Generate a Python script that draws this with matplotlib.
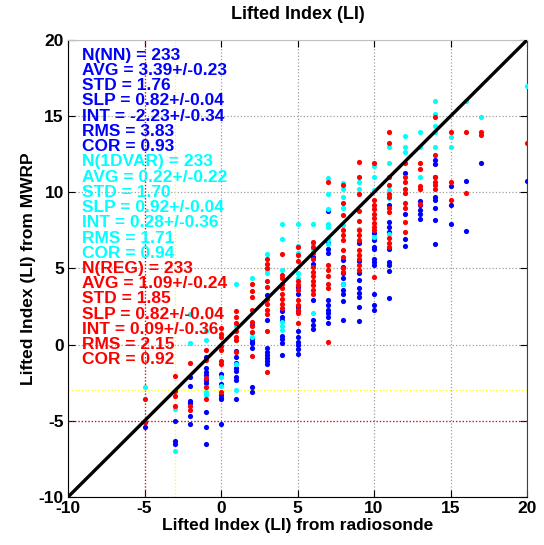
import matplotlib
matplotlib.use('Agg')
import matplotlib.pyplot as plt

plt.rcParams['font.family'] = ['Liberation Sans', 'DejaVu Sans']
plt.rcParams['font.weight'] = 'bold'
plt.rcParams['axes.unicode_minus'] = False

# LI from MWRP retrievals, grouped by the radiosonde LI value (column)
nn_pts = {
    -5: [-5.1, -5.4],
    -3: [-5.0, -6.3, -6.5],
    -2: [-2.1, -2.7, -3.7, -3.8, -4.7, -5.2],
    -1: [-0.8, -1.5, -1.8, -2.0, -2.3, -2.5, -4.4, -5.4, -6.5],
    0: [-1.9, -2.6, -3.3, -3.5, -3.6, -5.2],
    1: [-0.4, -0.8, -1.2, -1.5, -1.7, -2.1, -2.3, -3.6],
    2: [1.3, 0.4, 0.2, 0.1, -0.25, -2.8, -3.1],
    3: [3.25, 1.6, -0.25, -0.5, -0.7, -0.9, -1.1, -1.3],
    4: [2.2, 1.8, 1.6, 0.6, 0.4, 0.1, -0.7],
    5: [3.8, 3.35, 2.5, 2.2, 0.9, 0.5, 0.2, 0.0, -0.3, -0.6],
    6: [5.75, 5.3, 2.9, 1.6, 1.3, 1.0],
    7: [8.75, 6.65, 6.3, 6.0, 2.9, 2.6, 2.3, 2.05, 1.8, 1.4],
    8: [5.55, 5.1, 4.7, 4.4, 4.0, 3.6, 3.3, 2.85, 1.6],
    9: [6.65, 5.5, 4.7, 4.25, 3.7, 3.4, 3.15, 2.5, 1.55],
    10: [7.3, 6.9, 6.4, 6.3, 5.65, 5.4, 5.2, 3.35, 2.6, 2.3],
    11: [9.2, 8.05, 7.7, 7.4, 6.25, 5.4, 5.2, 4.85, 3.05],
    12: [11.3, 8.6, 6.95, 6.45],
    13: [9.4, 9.2, 8.85, 8.6, 8.25],
    14: [12.15, 11.85, 11.0, 9.7, 9.5, 8.99, 8.2, 6.6],
    15: [10.4, 9.2, 7.95],
    16: [10.75, 7.45],
    17: [11.95],
    20: [10.75],
}

dvar_pts = {
    -5: [-2.75],
    -3: [-4.2, -7.0],
    -2: [2.0, 0.1],
    -1: [0.9, 0.3, -2.8, -3.1, -3.3],
    0: [-2.1, -2.7],
    1: [4.0, 1.2, 0.3, -1.3, -3.0],
    2: [4.35, 0.75, 0.5],
    3: [5.95, 4.9, 4.7],
    4: [7.95, 6.95, 4.9, 1.5, 1.2, 0.95],
    5: [7.95, 6.5, 6.0, 4.7, 4.4, 4.0],
    6: [7.95, 6.6, 6.3, 2.05],
    7: [10.95, 9.9, 8.9, 7.95, 7.7, 6.95, 6.6],
    8: [10.6, 10.2, 9.7, 8.95, 7.85, 4.0],
    9: [10.7, 10.2, 7.6, 5.9],
    10: [11.7, 11.0, 10.15, 9.1, 7.1],
    11: [12.95, 11.95, 10.15, 9.6, 7.25],
    12: [13.7, 12.95, 12.65, 9.94],
    13: [13.98, 12.95, 11.0],
    14: [15.97, 15.14, 14.37, 13.98, 12.95],
    15: [13.65, 12.95],
    16: [15.97],
    17: [14.96],
    20: [16.98],
}

reg_pts = {
    -5: [-3.6, -5.1],
    -3: [-2.05, -3.05, -3.4, -4.0],
    -2: [-1.2, -4.0, -4.3],
    -1: [-0.35, -1.0, -2.2, -2.8, -3.6],
    0: [1.1, 0.7, 0.5, -0.1, -0.35, -1.05, -1.3, -3.1],
    1: [2.2, 1.8, 1.4, 0.9, 0.5, 0.3, -0.5],
    2: [3.95, 3.5, 3.1, 2.3, 1.5, 1.2, 0.85, -0.75],
    3: [5.6, 5.3, 5.05, 4.2, 3.8, 3.0, 2.7, 2.3, 2.0, 0.9, -1.8],
    4: [5.95, 4.6, 4.35, 4.0, 3.7, 3.35, 3.0, 2.7, 2.4],
    5: [6.4, 5.9, 5.5, 4.2, 3.9, 3.6, 2.9, 2.6, 2.3, 2.05, 1.45],
    6: [6.75, 6.4, 6.0, 5.6, 5.1, 4.8, 4.5, 4.2, 3.9, 3.6, 3.35],
    7: [10.65, 5.2, 4.9, 4.5, 4.0, 3.7, 0.2],
    8: [10.45, 9.3, 8.5, 7.5, 7.2, 6.85, 6.2, 5.75, 5.0, 4.8],
    9: [12.0, 11.0, 9.9, 8.8, 8.15, 7.5, 7.2, 6.85, 6.2, 5.9, 5.6, 5.2, 4.9],
    10: [11.95, 9.5, 9.2, 8.9, 8.6, 8.3, 8.0, 7.7, 7.5, 4.45],
    11: [13.98, 13.25, 11.0, 10.45, 9.9, 9.7, 9.0, 8.7, 7.0, 6.7, 6.4],
    12: [11.95, 11.0, 10.7, 10.2, 9.97, 9.3, 8.95, 8.05, 7.4],
    13: [11.95, 11.5, 10.4, 10.2, 9.25],
    14: [14.96, 12.45, 11.0, 10.7, 10.45, 10.2],
    15: [13.98, 10.7, 9.5],
    16: [13.98, 9.95],
    17: [13.98, 13.76],
    20: [13.25],
}

nn_stats = ['N(NN) = 233', 'AVG = 3.39+/-0.23', 'STD = 1.76', 'SLP = 0.82+/-0.04',
            'INT = -2.23+/-0.34', 'RMS = 3.83', 'COR = 0.93']
dvar_stats = ['N(1DVAR) = 233', 'AVG = 0.22+/-0.22', 'STD = 1.70', 'SLP = 0.92+/-0.04',
              'INT = 0.28+/-0.36', 'RMS = 1.71', 'COR = 0.94']
reg_stats = ['N(REG) = 233', 'AVG = 1.09+/-0.24', 'STD = 1.85', 'SLP = 0.82+/-0.04',
             'INT = 0.09+/-0.36', 'RMS = 2.15', 'COR = 0.92']

lims = [-10, 20]
ticks = [-10, -5, 0, 5, 10, 15, 20]
red_thr = -5
yel_thr = -3


def flatten(pts):
    xs, ys = [], []
    for k, vals in pts.items():
        xs += [k] * len(vals)
        ys += vals
    return xs, ys


fig = plt.figure(figsize=(5.44, 5.45), dpi=100)
ax = fig.add_axes([0.125, 0.0881, 0.8438, 0.8385])

ax.set_xlim(lims)
ax.set_ylim(lims)
ax.set_xticks(ticks)
ax.set_yticks(ticks)
ax.grid(True, linestyle=':', color='#a0a0a0', linewidth=0.9)
ax.set_axisbelow(True)

# threshold lines
ax.axvline(red_thr, color='red', linestyle=':', linewidth=0.9)
ax.axhline(red_thr, color='red', linestyle=':', linewidth=0.9)
ax.axvline(yel_thr, color='yellow', linestyle=':', linewidth=0.9)
ax.axhline(yel_thr, color='yellow', linestyle=':', linewidth=0.9)

for pts, col in [(nn_pts, 'blue'), (dvar_pts, 'cyan'), (reg_pts, 'red')]:
    xs, ys = flatten(pts)
    ax.scatter(xs, ys, s=14, c=col, linewidths=0, zorder=3)

ax.plot(lims, lims, color='black', linewidth=2.4, zorder=4)

# statistics text, one line per data unit starting at y=19
row = 19
for lines, col in [(nn_stats, 'blue'), (dvar_stats, 'cyan'), (reg_stats, 'red')]:
    for s in lines:
        ax.text(-9.1, row, s, color=col, fontsize=12.5, fontweight='bold',
                ha='left', va='center', zorder=5)
        row -= 1

ax.tick_params(direction='in', top=True, right=True, labelsize=12.5, length=5, pad=3)
for lab in ax.get_xticklabels() + ax.get_yticklabels():
    lab.set_fontweight('bold')
ax.spines['top'].set_color('#c0c0c0')
ax.spines['right'].set_color('#404040')

ax.set_title('Lifted Index (LI)', fontsize=13, fontweight='bold', pad=15)
ax.set_xlabel('Lifted Index (LI) from radiosonde', fontsize=12.5, fontweight='bold', labelpad=1)
ax.set_ylabel('Lifted Index (LI) from MWRP', fontsize=12.5, fontweight='bold', labelpad=2)

fig.savefig('out.png', dpi=100)
